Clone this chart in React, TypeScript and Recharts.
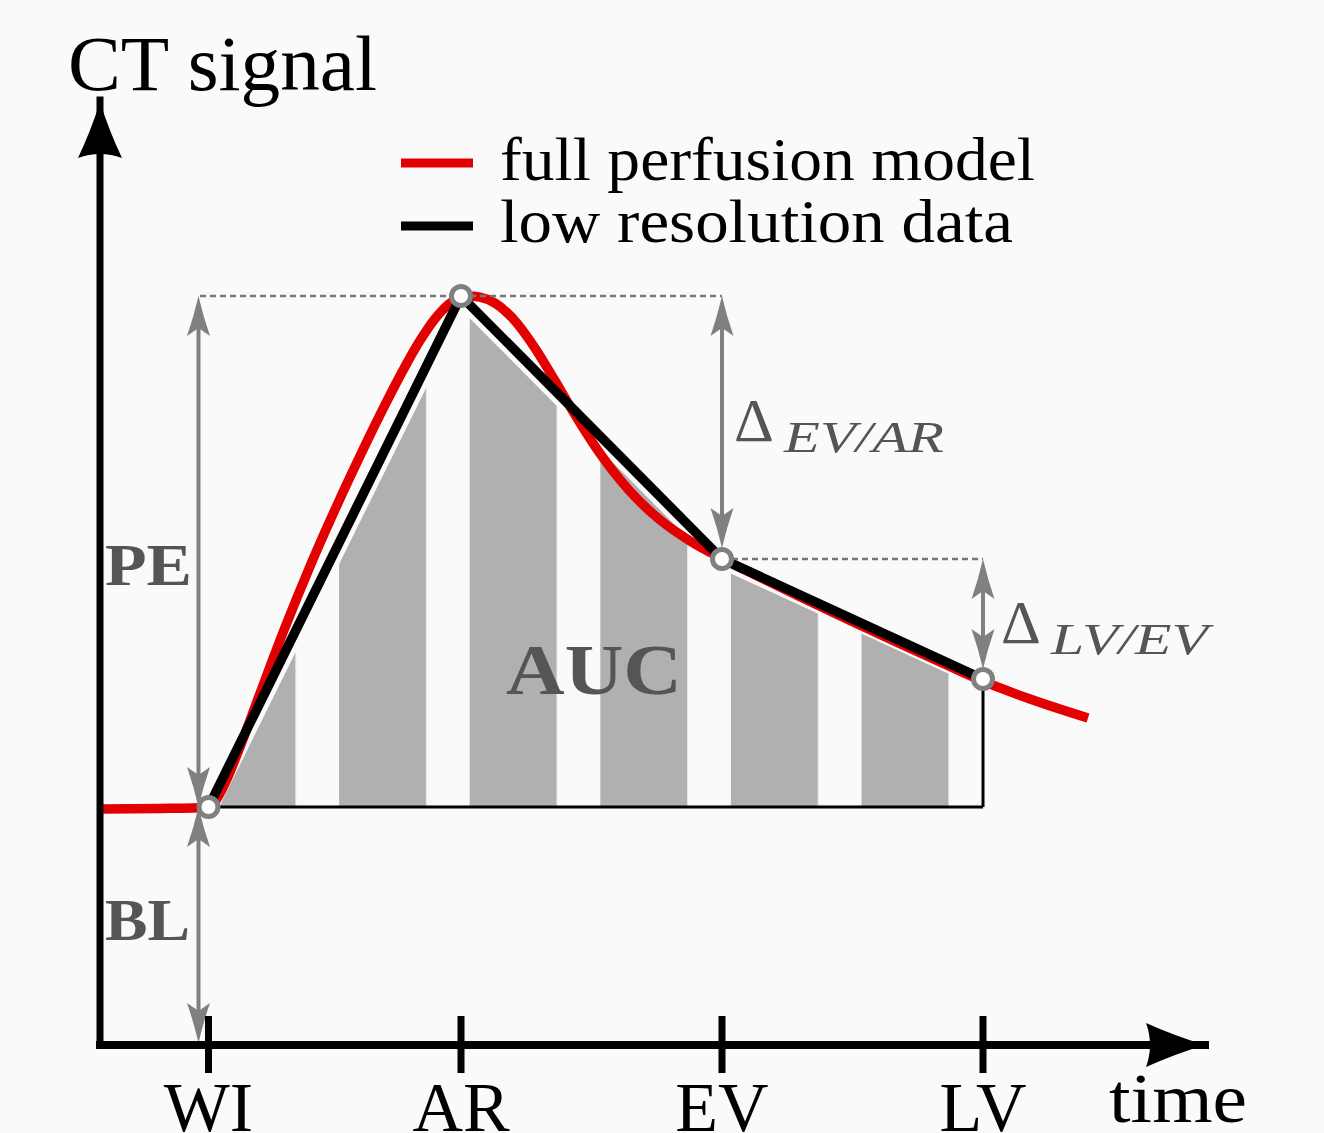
import React from 'react';
import { ComposedChart, Line, Area, XAxis, YAxis, ReferenceLine, ReferenceDot, Legend } from 'recharts';

// ---------- layout ----------
const W = 1324;
const H = 1133;
const MARGIN = { top: 100, right: 119, bottom: 58, left: 40 };
const X_AXIS_H = 30;
const Y_AXIS_W = 60;
const T_DOMAIN: [number, number] = [0, 110.5];
const S_DOMAIN: [number, number] = [0, 9.45];
const PLOT_LEFT = MARGIN.left + Y_AXIS_W;
const PLOT_W = W - PLOT_LEFT - MARGIN.right;
const PX_PER_T = PLOT_W / (T_DOMAIN[1] - T_DOMAIN[0]);

// ---------- data ----------
const tickLabels = ['WI', 'AR', 'EV', 'LV'];
const tickTimes = [10.85, 36.1, 62.2, 88.3];

const seriesNames = ['full perfusion model', 'low resolution data'];

const lowResTime = [10.85, 36.1, 62.2, 88.3];
const lowResSignal = [2.38, 7.49, 4.86, 3.66];

const modelTime = [
  0.3, 6.0, 10.8, 11.6, 12.6, 14.0, 16.0, 18.5, 21.0, 23.5, 26.0, 28.5, 30.5, 32.0, 33.5, 34.8, 35.8,
  36.8, 38.0, 39.5, 41.2, 43.5, 45.5, 47.5, 50.0, 53.0, 56.0, 59.0, 62.2, 66.0, 70.0, 75.0, 80.0,
  85.0, 88.3, 93.0, 98.8,
];
const modelSignal = [
  2.36, 2.365, 2.375, 2.448, 2.637, 2.98, 3.516, 4.174, 4.787, 5.354, 5.89, 6.401, 6.784, 7.044, 7.263,
  7.402, 7.469, 7.491, 7.479, 7.419, 7.274, 6.969, 6.642, 6.302, 5.914, 5.536, 5.251, 5.041, 4.865,
  4.677, 4.483, 4.245, 4.013, 3.785, 3.638, 3.46, 3.27,
];

const lowResData = lowResTime.map((t, i) => ({ t, s: lowResSignal[i] }));
const modelData = modelTime.map((t, i) => ({ t, s: modelSignal[i] }));

// AUC stripes (time units)
const STRIPE_PERIOD_T = 13.06;
const STRIPE_WIDTH_T = 8.7;

// annotation anchor positions (data coordinates)
const arrowT = 9.85;
const peakLineStartT = 10.0;

// ---------- styles ----------
const BG = '#fafafa';
const RED = '#e30000';
const GRAY = '#808080';
const TEXT_GRAY = '#555555';
const FONT = "'Liberation Serif', 'DejaVu Serif', serif";

const BL = lowResSignal[0];
const PEAK = lowResSignal[1];
const EVV = lowResSignal[2];
const LVV = lowResSignal[3];

function headPath(tx: number, ty: number, ux: number, uy: number, L: number, Wd: number, N: number, stealth = true) {
  const px = -uy;
  const py = ux;
  const bx = tx - ux * L;
  const by = ty - uy * L;
  const c1x = bx + px * Wd;
  const c1y = by + py * Wd;
  const c2x = bx - px * Wd;
  const c2y = by - py * Wd;
  const nx = tx - ux * N;
  const ny = ty - uy * N;
  const q1x = tx - ux * L * 0.5 + px * Wd * 0.4;
  const q1y = ty - uy * L * 0.5 + py * Wd * 0.4;
  const q2x = tx - ux * L * 0.5 - px * Wd * 0.4;
  const q2y = ty - uy * L * 0.5 - py * Wd * 0.4;
  if (stealth) {
    return `M${tx},${ty} Q${q1x},${q1y} ${c1x},${c1y} L${nx},${ny} L${c2x},${c2y} Q${q2x},${q2y} ${tx},${ty} Z`;
  }
  return `M${tx},${ty} Q${q1x},${q1y} ${c1x},${c1y} Q${nx},${ny} ${c2x},${c2y} Q${q2x},${q2y} ${tx},${ty} Z`;
}

const doubleArrow = (trimStart: number, trimEnd: number) => (p: any) => {
  const { x1, y1, x2, y2 } = p;
  const len = Math.hypot(x2 - x1, y2 - y1) || 1;
  const ux = (x2 - x1) / len;
  const uy = (y2 - y1) / len;
  const sx = x1 + ux * trimStart;
  const sy = y1 + uy * trimStart;
  const ex = x2 - ux * trimEnd;
  const ey = y2 - uy * trimEnd;
  const L = 40;
  const Wd = 11.5;
  const N = 32;
  return (
    <g>
      <line x1={sx + ux * N} y1={sy + uy * N} x2={ex - ux * N} y2={ey - uy * N} stroke={GRAY} strokeWidth={4} />
      <path d={headPath(sx, sy, -ux, -uy, L, Wd, N)} fill={GRAY} />
      <path d={headPath(ex, ey, ux, uy, L, Wd, N)} fill={GRAY} />
    </g>
  );
};

const TimeTick = (props: any) => {
  const { x, y, payload } = props;
  const idx = tickTimes.indexOf(payload.value);
  return (
    <g>
      <line x1={x} x2={x} y1={y - 29} y2={y + 28} stroke="#000" strokeWidth={7} />
      <text x={x} y={y + 86} textAnchor="middle" fontFamily={FONT} fontSize={70} fill="#000">
        {tickLabels[idx]}
      </text>
    </g>
  );
};

const textShape = (content: string, opts: any) => (p: any) => (
  <text
    x={p.cx}
    y={p.cy}
    fontFamily={FONT}
    fill={opts.fill || '#000'}
    fontSize={opts.fontSize}
    fontWeight={opts.bold ? 'bold' : 'normal'}
    textAnchor={opts.anchor || 'start'}
    textLength={opts.textLength}
    lengthAdjust="spacingAndGlyphs"
  >
    {content}
  </text>
);

const deltaShape = (sub: string, subLen: number) => (p: any) => (
  <g>
    <text x={p.cx} y={p.cy} fontFamily={FONT} fontSize={62} fill={TEXT_GRAY}>
      Δ
    </text>
    <text
      x={p.cx + 50}
      y={p.cy + 11}
      fontFamily={FONT}
      fontSize={44}
      fontStyle="italic"
      fill={TEXT_GRAY}
      textLength={subLen}
      lengthAdjust="spacingAndGlyphs"
    >
      {sub}
    </text>
  </g>
);

const legendLengths = [535, 513];

const LegendContent = (props: any) => {
  const entries = (props.payload || []).filter((e: any) => seriesNames.includes(e.value));
  entries.sort((a: any, b: any) => seriesNames.indexOf(a.value) - seriesNames.indexOf(b.value));
  return (
    <svg width={700} height={140} style={{ display: 'block' }}>
      {entries.map((e: any, i: number) => (
        <g key={e.value}>
          <line x1={21} x2={93} y1={43 + i * 63} y2={43 + i * 63} stroke={e.color} strokeWidth={9} />
          <text
            x={120}
            y={60 + i * 62}
            fontFamily={FONT}
            fontSize={62}
            fill="#000"
            textLength={legendLengths[seriesNames.indexOf(e.value)]}
            lengthAdjust="spacingAndGlyphs"
          >
            {e.value}
          </text>
        </g>
      ))}
    </svg>
  );
};

export default function App() {
  const stripeX = PLOT_LEFT + (lowResTime[0] - T_DOMAIN[0]) * PX_PER_T;
  return (
    <div style={{ position: 'absolute', left: 0, top: 0, width: W, height: H, background: BG, overflow: 'hidden' }}>
      <ComposedChart width={W} height={H} margin={MARGIN}>
        <defs>
          <pattern
            id="aucStripes"
            patternUnits="userSpaceOnUse"
            x={stripeX}
            y={0}
            width={STRIPE_PERIOD_T * PX_PER_T}
            height={10}
          >
            <rect x={0} y={0} width={STRIPE_WIDTH_T * PX_PER_T} height={10} fill="#b0b0b0" />
          </pattern>
        </defs>
        <XAxis
          type="number"
          dataKey="t"
          domain={T_DOMAIN}
          ticks={tickTimes}
          interval={0}
          height={X_AXIS_H}
          tickSize={0}
          tickMargin={0}
          tickLine={false}
          tick={<TimeTick />}
          axisLine={{ stroke: '#000', strokeWidth: 8, strokeLinecap: 'square' }}
          allowDataOverflow
        />
        <YAxis
          type="number"
          domain={S_DOMAIN}
          width={Y_AXIS_W}
          tick={false}
          tickLine={false}
          axisLine={{ stroke: '#000', strokeWidth: 7, strokeLinecap: 'square' }}
          allowDataOverflow
        />
        <Legend
          layout="horizontal"
          verticalAlign="middle"
          align="center"
          content={<LegendContent />}
          wrapperStyle={{ position: 'absolute', left: 380, top: 120, width: 700, height: 140 }}
        />
        <Area
          data={lowResData}
          dataKey="s"
          type="linear"
          baseValue={BL}
          fill="url(#aucStripes)"
          fillOpacity={1}
          stroke="none"
          legendType="none"
          isAnimationActive={false}
        />
        <Line
          data={lowResData}
          dataKey="s"
          type="linear"
          stroke={BG}
          strokeWidth={19}
          dot={false}
          activeDot={false}
          legendType="none"
          isAnimationActive={false}
        />
        <ReferenceLine
          segment={[{ x: lowResTime[0], y: BL }, { x: lowResTime[3], y: BL }]}
          stroke="#000"
          strokeWidth={3}
          ifOverflow="visible"
        />
        <ReferenceLine
          segment={[{ x: lowResTime[3], y: BL }, { x: lowResTime[3], y: LVV }]}
          stroke="#000"
          strokeWidth={3}
          ifOverflow="visible"
        />
        <Line
          data={modelData}
          dataKey="s"
          name={seriesNames[0]}
          type="monotone"
          stroke={RED}
          strokeWidth={9.5}
          dot={false}
          activeDot={false}
          isAnimationActive={false}
        />
        <Line
          data={lowResData}
          dataKey="s"
          name={seriesNames[1]}
          type="linear"
          stroke="#000"
          strokeWidth={9.5}
          dot={false}
          activeDot={false}
          isAnimationActive={false}
        />
        <ReferenceLine
          segment={[{ x: peakLineStartT, y: PEAK }, { x: lowResTime[2], y: PEAK }]}
          stroke="#777"
          strokeWidth={2.5}
          strokeDasharray="6 4"
          ifOverflow="visible"
        />
        <ReferenceLine
          segment={[{ x: lowResTime[2], y: EVV }, { x: lowResTime[3], y: EVV }]}
          stroke="#777"
          strokeWidth={2.5}
          strokeDasharray="6 4"
          ifOverflow="visible"
        />
        <ReferenceLine
          segment={[{ x: arrowT, y: BL }, { x: arrowT, y: PEAK }]}
          shape={doubleArrow(0, 0)}
          ifOverflow="visible"
        />
        <ReferenceLine
          segment={[{ x: arrowT, y: BL }, { x: arrowT, y: 0 }]}
          shape={doubleArrow(0, 2)}
          ifOverflow="visible"
        />
        <ReferenceLine
          segment={[{ x: lowResTime[2], y: PEAK }, { x: lowResTime[2], y: EVV }]}
          shape={doubleArrow(0, 11)}
          ifOverflow="visible"
        />
        <ReferenceLine
          segment={[{ x: lowResTime[3], y: EVV }, { x: lowResTime[3], y: LVV }]}
          shape={doubleArrow(0, 10)}
          ifOverflow="visible"
        />
        {lowResTime.map((t, i) => (
          <ReferenceDot
            key={'pt' + i}
            x={t}
            y={lowResSignal[i]}
            r={9.5}
            fill="#ffffff"
            stroke={GRAY}
            strokeWidth={5}
            ifOverflow="visible"
          />
        ))}
        <ReferenceDot
          x={4.85}
          y={4.6}
          r={1}
          ifOverflow="visible"
          shape={textShape('PE', { fontSize: 60, bold: true, fill: TEXT_GRAY, anchor: 'middle', textLength: 87 })}
        />
        <ReferenceDot
          x={4.75}
          y={1.05}
          r={1}
          ifOverflow="visible"
          shape={textShape('BL', { fontSize: 60, bold: true, fill: TEXT_GRAY, anchor: 'middle', textLength: 85 })}
        />
        <ReferenceDot
          x={49.4}
          y={3.51}
          r={1}
          ifOverflow="visible"
          shape={textShape('AUC', { fontSize: 71, bold: true, fill: TEXT_GRAY, anchor: 'middle', textLength: 176 })}
        />
        <ReferenceDot x={63.4} y={6.04} r={1} ifOverflow="visible" shape={deltaShape('EV/AR', 160)} />
        <ReferenceDot x={90.1} y={4.02} r={1} ifOverflow="visible" shape={deltaShape('LV/EV', 157)} />
        <ReferenceDot
          x={-3.2}
          y={9.55}
          r={1}
          ifOverflow="visible"
          shape={textShape('CT signal', { fontSize: 78, textLength: 309 })}
        />
        <ReferenceDot
          x={100.9}
          y={-0.77}
          r={1}
          ifOverflow="visible"
          shape={textShape('time', { fontSize: 70, textLength: 138 })}
        />
        <ReferenceDot
          x={T_DOMAIN[0]}
          y={S_DOMAIN[1]}
          r={1}
          ifOverflow="visible"
          shape={(p: any) => <path d={headPath(p.cx, p.cy + 2, 0, -1, 56, 22, 48, false)} fill="#000" />}
        />
        <ReferenceDot
          x={T_DOMAIN[1]}
          y={S_DOMAIN[0]}
          r={1}
          ifOverflow="visible"
          shape={(p: any) => <path d={headPath(p.cx, p.cy, 1, 0, 59, 22, 51, false)} fill="#000" />}
        />
      </ComposedChart>
    </div>
  );
}
